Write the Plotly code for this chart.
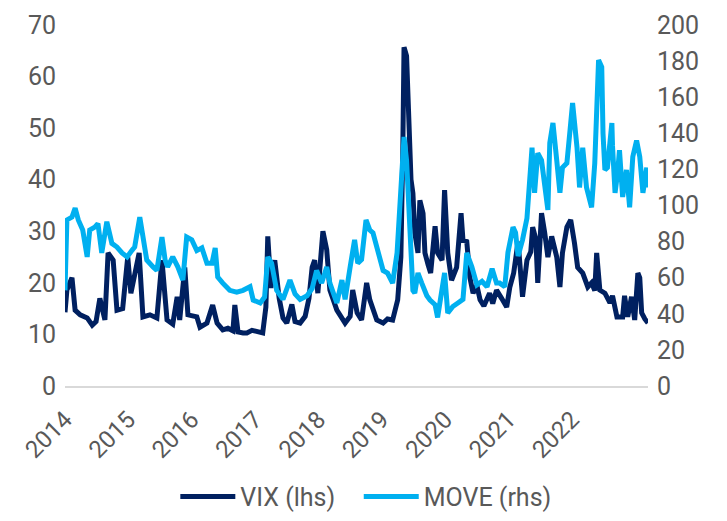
import plotly.graph_objects as go

# Decimal-year positions and values
vix_years = [2014.00, 2014.03, 2014.11, 2014.16, 2014.24, 2014.35, 2014.43, 2014.49, 2014.55, 2014.63,
             2014.68, 2014.76, 2014.82, 2014.91, 2014.95, 2014.99, 2015.04, 2015.14, 2015.17, 2015.23,
             2015.34, 2015.45, 2015.53, 2015.61, 2015.70, 2015.77, 2015.81, 2015.89, 2015.94, 2016.08,
             2016.13, 2016.24, 2016.33, 2016.40, 2016.49, 2016.57, 2016.65, 2016.68, 2016.73, 2016.81,
             2016.87, 2016.95, 2017.03, 2017.12, 2017.17, 2017.20, 2017.25, 2017.31, 2017.38, 2017.44,
             2017.50, 2017.58, 2017.63, 2017.71, 2017.79, 2017.85, 2017.90, 2017.94, 2017.99, 2018.04,
             2018.07, 2018.13, 2018.18, 2018.29, 2018.42, 2018.50, 2018.54, 2018.61, 2018.68, 2018.76,
             2018.81, 2018.92, 2019.02, 2019.09, 2019.17, 2019.25, 2019.30, 2019.33, 2019.35, 2019.39,
             2019.43, 2019.46, 2019.49, 2019.52, 2019.57, 2019.60, 2019.65, 2019.68, 2019.73, 2019.77,
             2019.84, 2019.88, 2019.95, 2019.99, 2020.04, 2020.10, 2020.18, 2020.25, 2020.28, 2020.34,
             2020.39, 2020.44, 2020.50, 2020.55, 2020.61, 2020.66, 2020.70, 2020.75, 2020.81, 2020.89,
             2020.97, 2021.02, 2021.08, 2021.15, 2021.19, 2021.22, 2021.29, 2021.35, 2021.38, 2021.43,
             2021.46, 2021.52, 2021.57, 2021.62, 2021.68, 2021.76, 2021.81, 2021.85, 2021.92, 2021.98,
             2022.04, 2022.09, 2022.17, 2022.25, 2022.31, 2022.36, 2022.39, 2022.44, 2022.52, 2022.60,
             2022.64, 2022.71, 2022.80, 2022.83, 2022.88, 2022.94, 2022.99, 2023.04, 2023.07, 2023.10,
             2023.15, 2023.20]
vix_values = [14.3, 18.6, 21.0, 14.7, 13.8, 13.2, 11.8, 12.5, 17.0, 12.8,
              25.8, 24.4, 14.7, 15.0, 20.0, 25.0, 18.0, 25.0, 25.8, 13.4,
              13.8, 13.2, 24.4, 12.8, 12.0, 17.3, 12.8, 23.0, 13.8, 13.4,
              11.4, 12.2, 15.7, 12.2, 10.9, 11.2, 10.7, 15.7, 10.5, 10.3,
              10.3, 10.8, 10.5, 10.3, 15.3, 29.0, 19.0, 24.4, 17.0, 13.2,
              12.2, 15.8, 12.5, 12.2, 13.5, 17.0, 23.0, 24.4, 18.0, 25.0,
              30.0, 26.4, 18.6, 14.7, 12.2, 13.5, 18.6, 14.2, 12.8, 20.0,
              16.7, 12.8, 12.2, 13.0, 12.8, 16.7, 25.0, 45.0, 65.7, 64.0,
              45.0, 40.0, 37.4, 29.7, 25.8, 36.0, 33.5, 25.8, 23.5, 21.9,
              31.0, 25.8, 24.4, 38.0, 25.8, 20.5, 23.0, 33.5, 28.3, 28.0,
              21.0, 18.0, 19.5, 16.7, 15.5, 17.0, 18.0, 16.0, 18.6, 17.0,
              15.3, 19.2, 21.9, 28.0, 20.0, 17.3, 24.4, 26.0, 30.8, 28.5,
              20.0, 33.5, 29.7, 25.0, 29.0, 25.0, 19.2, 25.8, 30.8, 32.2,
              27.7, 23.0, 21.9, 19.2, 20.0, 18.5, 25.8, 18.6, 18.0, 16.1,
              17.5, 13.4, 13.4, 17.5, 13.4, 17.3, 12.8, 21.9, 21.0, 14.2,
              13.0, 12.2]

move_years = [2014.00, 2014.03, 2014.11, 2014.16, 2014.21, 2014.28, 2014.35, 2014.39, 2014.47, 2014.52,
              2014.58, 2014.66, 2014.74, 2014.82, 2014.90, 2014.98, 2015.06, 2015.10, 2015.18, 2015.23,
              2015.29, 2015.39, 2015.45, 2015.53, 2015.58, 2015.62, 2015.70, 2015.78, 2015.86, 2015.92,
              2016.00, 2016.08, 2016.16, 2016.24, 2016.32, 2016.37, 2016.41, 2016.49, 2016.60, 2016.71,
              2016.81, 2016.92, 2016.97, 2017.08, 2017.15, 2017.20, 2017.26, 2017.34, 2017.44, 2017.55,
              2017.63, 2017.71, 2017.82, 2017.90, 2017.97, 2018.05, 2018.13, 2018.18, 2018.29, 2018.37,
              2018.42, 2018.50, 2018.57, 2018.62, 2018.68, 2018.75, 2018.81, 2018.86, 2018.94, 2019.02,
              2019.09, 2019.17, 2019.24, 2019.30, 2019.35, 2019.39, 2019.44, 2019.49, 2019.52, 2019.57,
              2019.63, 2019.71, 2019.76, 2019.84, 2019.88, 2019.95, 2019.99, 2020.04, 2020.12, 2020.20,
              2020.28, 2020.34, 2020.42, 2020.50, 2020.58, 2020.66, 2020.74, 2020.81, 2020.86, 2020.94,
              2020.99, 2021.07, 2021.11, 2021.15, 2021.22, 2021.29, 2021.33, 2021.37, 2021.41, 2021.46,
              2021.52, 2021.57, 2021.62, 2021.65, 2021.70, 2021.76, 2021.81, 2021.85, 2021.92, 2021.97,
              2022.01, 2022.08, 2022.12, 2022.17, 2022.23, 2022.31, 2022.36, 2022.42, 2022.47, 2022.49,
              2022.52, 2022.56, 2022.63, 2022.64, 2022.68, 2022.72, 2022.75, 2022.80, 2022.86, 2022.91,
              2022.96, 2023.02, 2023.07, 2023.12, 2023.18, 2023.20]
move_values = [53.0, 92.0, 93.6, 98.6, 92.0, 86.4, 71.5, 86.4, 88.0, 90.0,
               73.7, 91.0, 79.0, 77.0, 73.7, 71.5, 75.3, 77.0, 93.6, 81.0,
               69.8, 66.0, 64.0, 82.5, 69.8, 66.0, 71.5, 66.0, 58.7, 82.5,
               81.0, 75.0, 76.5, 68.0, 68.0, 76.5, 60.4, 57.0, 53.0, 52.0,
               53.0, 55.0, 47.6, 46.0, 49.3, 71.5, 68.0, 53.0, 48.0, 58.7,
               51.0, 48.0, 50.0, 54.0, 64.0, 57.0, 66.0, 57.0, 46.0, 58.7,
               48.0, 66.0, 81.0, 68.0, 70.0, 92.0, 86.4, 84.8, 73.7, 64.0,
               62.6, 57.0, 73.7, 115.8, 138.0, 125.0, 84.8, 53.0, 51.5, 62.6,
               57.0, 50.0, 47.6, 45.0, 38.0, 51.5, 62.6, 40.4, 44.0, 46.0,
               48.0, 73.7, 66.0, 56.0, 58.0, 55.0, 65.0, 57.0, 57.0, 55.0,
               74.0, 88.0, 85.0, 72.0, 81.0, 93.0, 112.5, 132.0, 107.0, 129.0,
               125.0, 110.0, 97.5, 134.6, 145.7, 125.0, 107.0, 121.0, 123.5, 141.8,
               156.8, 132.0, 110.0, 132.0, 110.0, 99.0, 123.5, 180.6, 176.7, 140.0,
               119.7, 121.0, 145.7, 133.0, 107.0, 118.0, 130.7, 104.7, 119.7, 99.0,
               127.0, 136.0, 127.0, 107.0, 121.0, 110.0]

tick_years = [2014, 2015, 2016, 2017, 2018, 2019, 2020, 2021, 2022]
tick_labels = [str(y) for y in tick_years]

FONT = "Roboto, Arial, sans-serif"
GREY = "#595959"
PAD = "\u00a0\u00a0\u00a0"

fig = go.Figure()
fig.add_trace(go.Scatter(x=vix_years, y=vix_values, name="VIX (lhs)" + PAD, mode="lines",
                         line=dict(color="#002060", width=5), yaxis="y"))
fig.add_trace(go.Scatter(x=move_years, y=move_values, name="MOVE (rhs)", mode="lines",
                         line=dict(color="#00B0F0", width=5), yaxis="y2"))

# page body has an 8px margin, so the figure is sized to end at the window edges
fig.update_layout(
    width=719, height=513,
    margin=dict(l=57, r=79, t=17, b=135, autoexpand=False),
    paper_bgcolor="white", plot_bgcolor="white",
    font=dict(family=FONT, size=25, color=GREY),
    showlegend=True,
    legend=dict(orientation="h", x=0.516, xanchor="center", y=-0.307, yanchor="middle",
                font=dict(size=25, color=GREY), itemwidth=55, traceorder="normal",
                bgcolor="rgba(0,0,0,0)"),
    xaxis=dict(range=[2014, 2023.2], tickmode="array", tickvals=tick_years, ticktext=tick_labels,
               tickangle=-45, showgrid=False, zeroline=False, showline=True, automargin=False,
               linecolor="#d9d9d9", linewidth=2, ticks="", ticklabelstandoff=8,
               tickfont=dict(size=24, color=GREY)),
    yaxis=dict(range=[0, 70], dtick=10, showgrid=False, zeroline=False, showline=False,
               automargin=False, ticks="", ticklabelstandoff=8, tickfont=dict(size=25, color=GREY)),
    yaxis2=dict(range=[0, 200], dtick=20, overlaying="y", side="right", showgrid=False,
                automargin=False, ticklabelstandoff=8,
                zeroline=False, showline=False, ticks="", tickfont=dict(size=25, color=GREY)),
)

fig.write_html("out.html")
